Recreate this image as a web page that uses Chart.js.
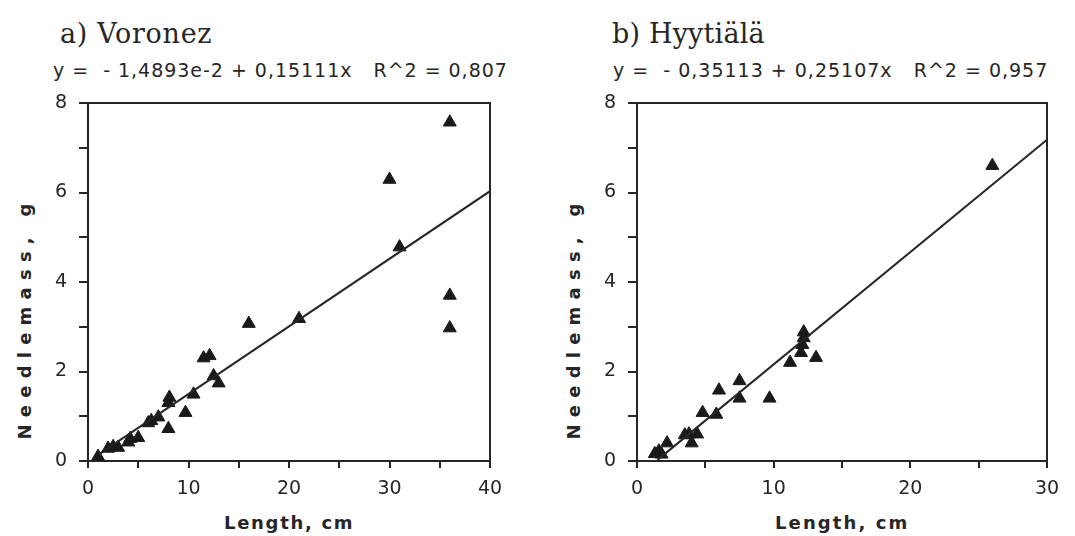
<!DOCTYPE html>
<html>
<head>
<meta charset="utf-8">
<script src="https://cdn.jsdelivr.net/npm/chart.js@4.4.1/dist/chart.umd.min.js"></script>
<style>
  html, body { margin: 0; padding: 0; background: #fff; }
  #wrap { position: relative; width: 1075px; height: 536px; overflow: hidden; background: #fff; }
  canvas { position: absolute; }
  .t { position: absolute; white-space: pre; color: #262626; line-height: 1; display: inline-block; }
  .panel { font-family: "DejaVu Serif", serif; font-size: 27px; }
  .eq { font-family: "DejaVu Sans", sans-serif; font-size: 19px; }
  .ax { font-family: "DejaVu Sans", sans-serif; font-weight: bold; font-size: 18px; }
  .ay { font-family: "DejaVu Sans", sans-serif; font-weight: bold; font-size: 18px; transform: rotate(-90deg); transform-origin: 50% 50%; }
</style>
</head>
<body>
<div id="wrap">
  <div class="t panel" id="titleA" data-w="152">a) Voronez</div>
  <div class="t eq" id="eqA" data-w="455">y =  - 1,4893e-2 + 0,15111x   R^2 = 0,807</div>
  <div class="t panel" id="titleB" data-w="153">b) Hyytiälä</div>
  <div class="t eq" id="eqB" data-w="435">y =  - 0,35113 + 0,25107x   R^2 = 0,957</div>
  <div class="t ay" id="yTitleA" data-w="243">Needlemass, g</div>
  <div class="t ay" id="yTitleB" data-w="243">Needlemass, g</div>
  <div class="t ax" id="xTitleA" data-w="130">Length, cm</div>
  <div class="t ax" id="xTitleB" data-w="134">Length, cm</div>
  <canvas id="chartA" width="530" height="446" style="left:0px;top:90px;"></canvas>
  <canvas id="chartB" width="535" height="446" style="left:540px;top:90px;"></canvas>
</div>
<script>
// Shoot length (cm) and needle mass (g), Voronez
const voronezLength = [1.0, 2.0, 2.5, 3.0, 4.0, 4.2, 5.0, 6.0, 6.3, 7.0, 8.0, 8.1, 8.0, 9.7, 10.5, 11.5, 12.1, 12.5, 13.0, 16.0, 21.0, 30.0, 31.0, 36.0, 36.0, 36.0];
const voronezMass   = [0.10, 0.28, 0.32, 0.30, 0.42, 0.50, 0.52, 0.85, 0.90, 0.98, 1.30, 1.42, 0.72, 1.08, 1.49, 2.30, 2.35, 1.90, 1.74, 3.07, 3.18, 6.29, 4.78, 7.57, 3.70, 2.97];

// Shoot length (cm) and needle mass (g), Hyytiälä
const hyytialaLength = [1.3, 1.6, 1.8, 2.2, 3.5, 3.8, 4.0, 4.4, 4.8, 5.8, 6.0, 7.5, 7.5, 9.7, 11.2, 12.0, 12.1, 12.2, 12.2, 13.1, 26.0];
const hyytialaMass   = [0.16, 0.22, 0.15, 0.40, 0.58, 0.60, 0.40, 0.60, 1.08, 1.04, 1.58, 1.40, 1.79, 1.40, 2.20, 2.42, 2.60, 2.75, 2.88, 2.31, 6.60];

// Linear fits y = a + b x (Voronez, Hyytiälä) and the x-range each line covers
const fitIntercept = [-1.4893e-2, -0.35113];
const fitSlope     = [0.15111, 0.25107];
const fitFrom      = [1.0, 1.5];
const fitTo        = [40, 30];

// Labelled tick values
const massTicks    = [0, 2, 4, 6, 8];
const lengthTicksA = [0, 10, 20, 30, 40];
const lengthTicksB = [0, 10, 20, 30];

const INK = '#262626';

// Spread text so it spans the given width
function fitText(el) {
  const target = +el.dataset.w;
  const n = el.textContent.length;
  el.style.letterSpacing = '0px';
  const w0 = el.offsetWidth;
  el.style.letterSpacing = ((target - w0) / n) + 'px';
}
function place(id, left, top) {
  const el = document.getElementById(id);
  fitText(el);
  el.style.left = left + 'px';
  el.style.top = top + 'px';
}
function placeCentered(id, cx, top) {
  const el = document.getElementById(id);
  fitText(el);
  el.style.left = (cx - el.offsetWidth / 2) + 'px';
  el.style.top = top + 'px';
}
function placeRotated(id, cx, cy) {
  const el = document.getElementById(id);
  fitText(el);
  el.style.left = (cx - el.offsetWidth / 2) + 'px';
  el.style.top = (cy - el.offsetHeight / 2) + 'px';
}

place('titleA', 60, 20);
place('eqA', 53, 61);
place('titleB', 612, 20);
place('eqB', 613, 61);
placeRotated('yTitleA', 24, 318);
placeRotated('yTitleB', 573, 318);
placeCentered('xTitleA', 289, 514);
placeCentered('xTitleB', 842, 514);

// Box round the plotting area
const frame = {
  id: 'frame',
  beforeDatasetsDraw(chart) {
    const { ctx, chartArea: a } = chart;
    ctx.save();
    ctx.strokeStyle = INK;
    ctx.lineWidth = 2;
    ctx.strokeRect(a.left, a.top, a.right - a.left, a.bottom - a.top);
    ctx.restore();
  }
};

function makeChart(canvasId, xs, ys, idx, xMax, xLabels, yAxisWidth, padRight) {
  const pts = xs.map((x, i) => ({ x: x, y: ys[i] }));
  const a = fitIntercept[idx], b = fitSlope[idx];
  const fitLine = [
    { x: fitFrom[idx], y: a + b * fitFrom[idx] },
    { x: fitTo[idx], y: a + b * fitTo[idx] }
  ];
  const tickFont = { family: 'DejaVu Sans', size: 19 };
  return new Chart(document.getElementById(canvasId), {
    type: 'scatter',
    data: {
      datasets: [
        {
          type: 'line',
          data: fitLine,
          borderColor: INK,
          borderWidth: 2,
          pointRadius: 0,
          fill: false,
          tension: 0
        },
        {
          data: pts,
          pointStyle: 'triangle',
          pointRadius: 7.5,
          pointBackgroundColor: '#1a1a1a',
          pointBorderColor: '#1a1a1a',
          pointBorderWidth: 1,
          clip: false
        }
      ]
    },
    options: {
      responsive: false,
      animation: false,
      devicePixelRatio: 1,
      layout: { padding: { top: 13, right: padRight, left: 0, bottom: 0 } },
      plugins: { legend: { display: false }, tooltip: { enabled: false }, title: { display: false } },
      scales: {
        x: {
          type: 'linear',
          min: 0, max: xMax,
          ticks: {
            stepSize: 5, autoSkip: false, maxRotation: 0, padding: 10, color: INK, font: tickFont,
            callback: v => xLabels.includes(v) ? String(v) : ''
          },
          grid: { drawOnChartArea: false, drawTicks: true, tickLength: 7, color: INK, lineWidth: 2 },
          border: { display: false },
          afterFit: s => { s.height = 75; s.paddingLeft = 0; s.paddingRight = 0; }
        },
        y: {
          type: 'linear',
          min: 0, max: 8,
          ticks: {
            stepSize: 1, autoSkip: false, padding: 12, color: INK, font: tickFont,
            callback: v => massTicks.includes(v) ? String(v) : ''
          },
          grid: { drawOnChartArea: false, drawTicks: true, tickLength: 9, color: INK, lineWidth: 2 },
          border: { display: false },
          afterFit: s => { s.width = yAxisWidth; s.paddingTop = 0; s.paddingBottom = 0; }
        }
      }
    },
    plugins: [frame]
  });
}

makeChart('chartA', voronezLength, voronezMass, 0, 40, lengthTicksA, 88, 40);
makeChart('chartB', hyytialaLength, hyytialaMass, 1, 30, lengthTicksB, 97, 28);
</script>
</body>
</html>
